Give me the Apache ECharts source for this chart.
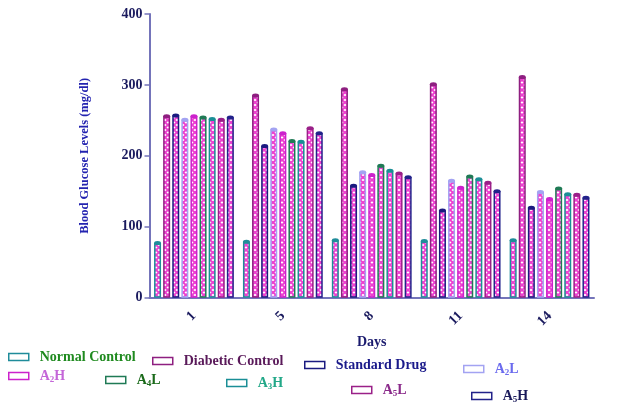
<!DOCTYPE html>
<html>
<head>
<meta charset="utf-8">
<script src="https://cdn.jsdelivr.net/npm/echarts@6/dist/echarts.min.js"></script>
<style>
  html, body { margin: 0; padding: 0; background: #fff; }
  #chart { width: 628px; height: 405px; }
</style>
</head>
<body>
<div id="chart"></div>
<script>
// Days on the x axis
const days = ['1', '5', '8', '11', '14'];

// Blood glucose (mg/dl) per group
const normalControl   = [77, 79, 81, 80, 81];
const diabeticControl = [256, 285, 294, 301, 311];
const standardDrug    = [257, 214, 158, 123, 127];
const a2L             = [251, 237, 177, 165, 149];
const a2H             = [256, 232, 173, 155, 139];
const a4L             = [254, 221, 186, 171, 154];
const a3H             = [252, 220, 179, 167, 146];
const a5L             = [251, 239, 175, 162, 145];
const a5H             = [254, 232, 170, 150, 141];

const yTicks = [0, 100, 200, 300, 400];

const groups = [
  { name: 'Normal Control',   data: normalControl,   color: '#1f8c9a', text: '#1f8a1f' },
  { name: 'Diabetic Control', data: diabeticControl, color: '#8e1f80', text: '#5a1a5a' },
  { name: 'Standard Drug',    data: standardDrug,    color: '#1a1a80', text: '#1a1a8a' },
  { name: 'A2L',              data: a2L,             color: '#a3a3f2', text: '#6b6bee' },
  { name: 'A2H',              data: a2H,             color: '#cc22cc', text: '#c466d8' },
  { name: 'A4L',              data: a4L,             color: '#1f7a55', text: '#1a6a1a' },
  { name: 'A3H',              data: a3H,             color: '#1a8e96', text: '#22a888' },
  { name: 'A5L',              data: a5L,             color: '#9a2088', text: '#8a2a8a' },
  { name: 'A5H',              data: a5H,             color: '#22228a', text: '#1a1a5a' }
];

// Legend placement: [left, top]
const legendSpots = [
  [8, 350], [152, 354], [304, 358], [463, 362],
  [8, 369], [105, 373], [226, 376], [351, 383], [471, 389]
];

// Pink cross-hatch fill shared by every bar
const hatch = document.createElement('canvas');
hatch.width = 6; hatch.height = 5;
(function () {
  const c = hatch.getContext('2d');
  c.fillStyle = '#ffffff';
  c.fillRect(0, 0, 6, 5);
  c.strokeStyle = '#ee3fd0';
  c.lineWidth = 1.8;
  c.beginPath();
  c.moveTo(0, 0); c.lineTo(6, 5);
  c.moveTo(6, 0); c.lineTo(0, 5);
  c.stroke();
})();

const FONT = '"Liberation Serif", "Times New Roman", serif';
const BAR_W = 7;
const BAR_GAP = '30%';

const subFmt = name => {
  const m = name.match(/^A(\d)([LH])$/);
  return m ? '{b|A}{s|' + m[1] + '}{b|' + m[2] + '}' : '{b|' + name + '}';
};

const legends = groups.map((g, i) => ({
  show: true,
  left: legendSpots[i][0],
  top: legendSpots[i][1],
  padding: 0,
  orient: 'horizontal',
  itemWidth: 20,
  itemHeight: 7,
  selectedMode: false,
  data: [{
    name: g.name,
    icon: 'rect',
    itemStyle: { color: '#ffffff', borderColor: g.color, borderWidth: 1.5 }
  }],
  formatter: subFmt,
  textStyle: {
    padding: [0, 0, 0, 6],
    rich: {
      b: { fontFamily: FONT, fontWeight: 'bold', fontSize: 14, color: g.text },
      s: { fontFamily: FONT, fontWeight: 'bold', fontSize: 9, color: g.text, padding: [7, 0, 0, 0] }
    }
  }
}));

const barSeries = groups.map(g => ({
  name: g.name,
  type: 'bar',
  data: g.data,
  barWidth: BAR_W,
  barGap: BAR_GAP,
  itemStyle: {
    color: { image: hatch, repeat: 'repeat' },
    borderColor: g.color,
    borderWidth: 1.5
  },
  emphasis: { disabled: true },
  z: 2
}));

// Small rounded caps on top of each bar
const capSeries = groups.map(g => ({
  name: g.name,
  type: 'pictorialBar',
  data: g.data,
  barWidth: BAR_W,
  barGap: BAR_GAP,
  symbol: 'circle',
  symbolSize: [7, 4],
  symbolPosition: 'end',
  symbolOffset: [0, '-50%'],
  itemStyle: { color: g.color },
  emphasis: { disabled: true },
  z: 3
}));

const chart = echarts.init(document.getElementById('chart'), null, { renderer: 'canvas' });
chart.setOption({
  animation: false,
  backgroundColor: '#ffffff',
  legend: legends,
  grid: { left: 149.5, right: 34, top: 14, bottom: 107.3, containLabel: false },
  xAxis: {
    type: 'category',
    data: days,
    name: 'Days',
    nameLocation: 'middle',
    nameGap: 38,
    nameTextStyle: { fontFamily: FONT, fontWeight: 'bold', fontSize: 14, color: '#1a1a6e' },
    axisLine: { lineStyle: { color: '#7474ba', width: 2 } },
    axisTick: { alignWithLabel: true, length: 5, lineStyle: { color: '#7474ba', width: 1.5 } },
    axisLabel: {
      rotate: 45,
      margin: 16,
      fontFamily: FONT, fontWeight: 'bold', fontSize: 14, color: '#1a1a5e'
    },
    splitLine: { show: false }
  },
  yAxis: {
    type: 'value',
    min: yTicks[0],
    max: yTicks[yTicks.length - 1],
    interval: 100,
    name: 'Blood Glucose Levels (mg/dl)',
    nameLocation: 'middle',
    nameRotate: 90,
    nameGap: 58,
    nameTextStyle: { fontFamily: FONT, fontWeight: 'bold', fontSize: 12.5, color: '#2323b0' },
    axisLine: { show: true, lineStyle: { color: '#7474ba', width: 2 } },
    axisTick: { show: true, length: 5, lineStyle: { color: '#7474ba', width: 1.5 } },
    axisLabel: {
      margin: 7,
      fontFamily: FONT, fontWeight: 'bold', fontSize: 14, color: '#1a1a5e'
    },
    splitLine: { show: false }
  },
  series: barSeries.concat(capSeries)
});
</script>
</body>
</html>
